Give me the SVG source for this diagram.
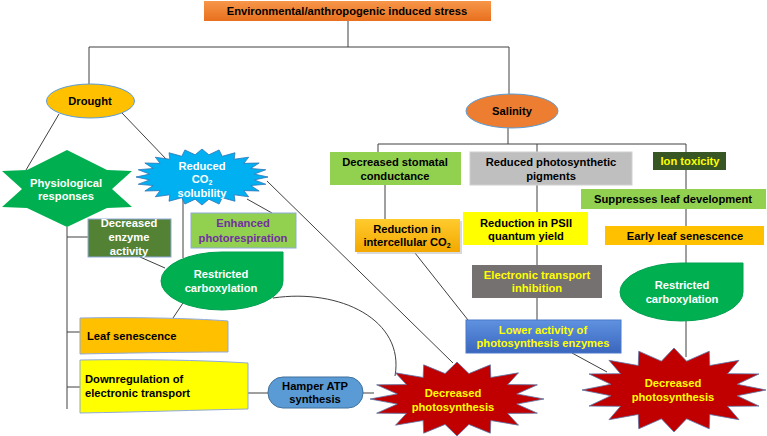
<svg xmlns="http://www.w3.org/2000/svg" xmlns:xlink="http://www.w3.org/1999/xlink" width="767" height="436" viewBox="0 0 767 436">
<style>
.t{font-family:"Liberation Sans",Arial,sans-serif;font-weight:bold;font-size:11.2px;text-anchor:middle}
.l{text-anchor:start}
.k{fill:#000}.w{fill:#fff}.y{fill:#FFFF00}.p{fill:#7030A0}
.ln{fill:none;stroke:#404040;stroke-width:1}
.bx{stroke:#8FAADC;stroke-width:1}
.sub{font-size:7px}
</style>
<defs>
<linearGradient id="gTop" x1="0" y1="0" x2="0" y2="1"><stop offset="0" stop-color="#F7964A"/><stop offset="1" stop-color="#E8701E"/></linearGradient>
<linearGradient id="gOr" x1="0" y1="0" x2="0" y2="1"><stop offset="0" stop-color="#FFCB2E"/><stop offset="1" stop-color="#F3A800"/></linearGradient>
<linearGradient id="gBl" x1="0" y1="0" x2="0" y2="1"><stop offset="0" stop-color="#5F92E0"/><stop offset="1" stop-color="#3A66BE"/></linearGradient>
<path id="b16" vector-effect="non-scaling-stroke" d="M100,0 L68.7,13.7 L92.4,38.3 L58.2,38.9 L70.7,70.7 L38.9,58.2 L38.3,92.4 L13.7,68.7 L0,100 L-13.7,68.7 L-38.3,92.4 L-38.9,58.2 L-70.7,70.7 L-58.2,38.9 L-92.4,38.3 L-68.7,13.7 L-100,0 L-68.7,-13.7 L-92.4,-38.3 L-58.2,-38.9 L-70.7,-70.7 L-38.9,-58.2 L-38.3,-92.4 L-13.7,-68.7 L0,-100 L13.7,-68.7 L38.3,-92.4 L38.9,-58.2 L70.7,-70.7 L58.2,-38.9 L92.4,-38.3 L68.7,-13.7 Z"/>
<path id="b24" vector-effect="non-scaling-stroke" d="M100,0 L79.3,10.4 L96.6,25.9 L73.9,30.6 L86.6,50 L63.5,48.7 L70.7,70.7 L48.7,63.5 L50,86.6 L30.6,73.9 L25.9,96.6 L10.4,79.3 L0,100 L-10.4,79.3 L-25.9,96.6 L-30.6,73.9 L-50,86.6 L-48.7,63.5 L-70.7,70.7 L-63.5,48.7 L-86.6,50 L-73.9,30.6 L-96.6,25.9 L-79.3,10.4 L-100,0 L-79.3,-10.4 L-96.6,-25.9 L-73.9,-30.6 L-86.6,-50 L-63.5,-48.7 L-70.7,-70.7 L-48.7,-63.5 L-50,-86.6 L-30.6,-73.9 L-25.9,-96.6 L-10.4,-79.3 L0,-100 L10.4,-79.3 L25.9,-96.6 L30.6,-73.9 L50,-86.6 L48.7,-63.5 L70.7,-70.7 L63.5,-48.7 L86.6,-50 L73.9,-30.6 L96.6,-25.9 L79.3,-10.4 Z"/>
</defs>
<rect width="767" height="436" fill="#fff"/>
<g id="connectors" class="ln">
<path d="M348,21 V47"/>
<path d="M89,84 V47 H509 V94"/>
<path d="M59,114 L26,170"/>
<path d="M122,113 L167,160"/>
<path d="M267,181 L453,363"/>
<path d="M247,199 L272,213"/>
<path d="M183,198 V258"/>
<path d="M67,227 V409 M67,237 H88 M67,332 H80 M67,387 H80"/>
<path d="M140,257 L165,268"/>
<path d="M183,303 L173,318"/>
<path d="M273,298 C340,288 405,320 395,376"/>
<path d="M248,393 H268 M363,393 H374"/>
<path d="M508,128 V144 M378,152 V144 H686 V263 M537,144 V320 M686,321 V357"/>
<path d="M385,185 V219"/>
<path d="M415,253 L468,320"/>
<path d="M572,353 L607,372"/>
</g>
<g id="top">
<rect x="204" y="1" width="287" height="20" fill="url(#gTop)"/>
<text class="t k" x="347" y="15">Environmental/anthropogenic induced stress</text>
</g>
<g id="drought">
<ellipse cx="90.5" cy="101" rx="44" ry="17" fill="#FFC000" stroke="#5B9BD5"/>
<text class="t k" x="90" y="105">Drought</text>
</g>
<g id="salinity">
<ellipse cx="512" cy="111" rx="46" ry="17" fill="#ED7D31" stroke="#5B9BD5"/>
<text class="t k" x="512" y="115">Salinity</text>
</g>
<g id="physiological">
<polygon points="67,150 107,170 132,171 112,189 132,207 107,208 67,227 27,208 2,207 22,189 2,171 27,170" fill="#00B050"/>
<text class="t w" x="66" y="187">Physiological</text>
<text class="t w" x="66" y="200">responses</text>
</g>
<g id="co2sol">
<use xlink:href="#b24" transform="translate(202,177) scale(0.66,0.28)" fill="#00B0F0" stroke="#2E75B6" stroke-width="0.8"/>
<text class="t w" x="202" y="170">Reduced</text>
<text class="t w" x="202" y="183">CO<tspan class="sub" dy="2">2</tspan></text>
<text class="t w" x="202" y="197">solubility</text>
</g>
<g id="enzyme">
<rect class="bx" x="88" y="219" width="83" height="38" fill="#548235"/>
<text class="t w" x="129" y="227">Decreased</text>
<text class="t w" x="129" y="241">enzyme</text>
<text class="t w" x="129" y="255">activity</text>
</g>
<g id="photoresp">
<rect class="bx" x="191" y="213" width="105" height="35" fill="#92D050"/>
<text class="t p" x="243" y="227">Enhanced</text>
<text class="t p" x="243" y="242">photorespiration</text>
</g>
<g id="restricted1">
<path d="M283,252 V281 A61,29 0 0 1 222,310 A61,29 0 0 1 161,281 A61,29 0 0 1 222,252 Z" fill="#00B050" stroke="#00A050"/>
<text class="t w" x="221" y="278">Restricted</text>
<text class="t w" x="221" y="292">carboxylation</text>
</g>
<g id="leafsen">
<path class="bx" d="M80,318 C130,317 190,318 228,321 L228,352 C190,352 130,353 80,354 Z" fill="#FFC000"/>
<text class="t k l" x="87" y="340">Leaf senescence</text>
</g>
<g id="downreg">
<path class="bx" d="M80,360 C140,359 200,360 248,363 L248,409 C200,410 140,412 80,413 Z" fill="#FFFF00"/>
<text class="t k l" x="85" y="383">Downregulation of</text>
<text class="t k l" x="85" y="397">electronic transport</text>
</g>
<g id="hamper">
<rect x="268" y="377" width="95" height="31" rx="15" fill="#5B9BD5" stroke="#41719C"/>
<text class="t k" x="315" y="390">Hamper ATP</text>
<text class="t k" x="315" y="403">synthesis</text>
</g>
<g id="decphoto1">
<use xlink:href="#b16" transform="translate(457,399) scale(0.87,0.37)" fill="#C00000" stroke="#5A76A8" stroke-width="0.8"/>
<text class="t y" x="453" y="397">Decreased</text>
<text class="t y" x="453" y="411">photosynthesis</text>
</g>
<g id="stomatal">
<rect x="330" y="152" width="131" height="33" fill="#92D050"/>
<text class="t k" x="395" y="166">Decreased stomatal</text>
<text class="t k" x="395" y="180">conductance</text>
</g>
<g id="intercell">
<rect x="357" y="221" width="105" height="33" fill="#BFBFBF" opacity="0.6"/>
<rect x="355" y="219" width="105" height="33" fill="url(#gOr)"/>
<text class="t k" x="407" y="233">Reduction in</text>
<text class="t k" x="407" y="246">intercellular CO<tspan class="sub" dy="2">2</tspan></text>
</g>
<g id="pigments">
<rect x="470" y="152" width="162" height="33" fill="#BFBFBF" stroke="#D0D0D0"/>
<text class="t k" x="551" y="166">Reduced photosynthetic</text>
<text class="t k" x="551" y="180">pigments</text>
</g>
<g id="psii">
<rect x="463" y="212" width="125" height="33" fill="#FFFF00"/>
<text class="t k" x="526" y="227">Reduction in PSII</text>
<text class="t k" x="526" y="240">quantum yield</text>
</g>
<g id="etinhib">
<rect x="472" y="265" width="130" height="33" fill="#767171"/>
<text class="t y" x="537" y="279">Electronic transport</text>
<text class="t y" x="537" y="292">inhibition</text>
</g>
<g id="loweract">
<rect x="466" y="320" width="155" height="33" fill="url(#gBl)" stroke="#4A78C8"/>
<text class="t y" x="543" y="334">Lower activity of</text>
<text class="t y" x="543" y="347">photosynthesis enzymes</text>
</g>
<g id="iontox">
<rect x="653" y="152" width="73" height="18" fill="#375623"/>
<text class="t y" x="690" y="165">Ion toxicity</text>
</g>
<g id="suppress">
<rect x="581" y="189" width="185" height="20" fill="#92D050"/>
<text class="t k" x="673" y="203">Suppresses leaf development</text>
</g>
<g id="earlysen">
<rect x="605" y="226" width="159" height="19" fill="#FFC000"/>
<text class="t k" x="685" y="240">Early leaf senescence</text>
</g>
<g id="restricted2">
<path d="M743,263 V292 A61.5,29 0 0 1 681.5,321 A61.5,29 0 0 1 620,292 A61.5,29 0 0 1 681.5,263 Z" fill="#00B050" stroke="#00A050"/>
<text class="t w" x="682" y="289">Restricted</text>
<text class="t w" x="682" y="303">carboxylation</text>
</g>
<g id="decphoto2">
<use xlink:href="#b16" transform="translate(674,390) scale(0.92,0.42)" fill="#C00000" stroke="#5A76A8" stroke-width="0.8"/>
<text class="t y" x="673" y="387">Decreased</text>
<text class="t y" x="673" y="401">photosynthesis</text>
</g>
</svg>
